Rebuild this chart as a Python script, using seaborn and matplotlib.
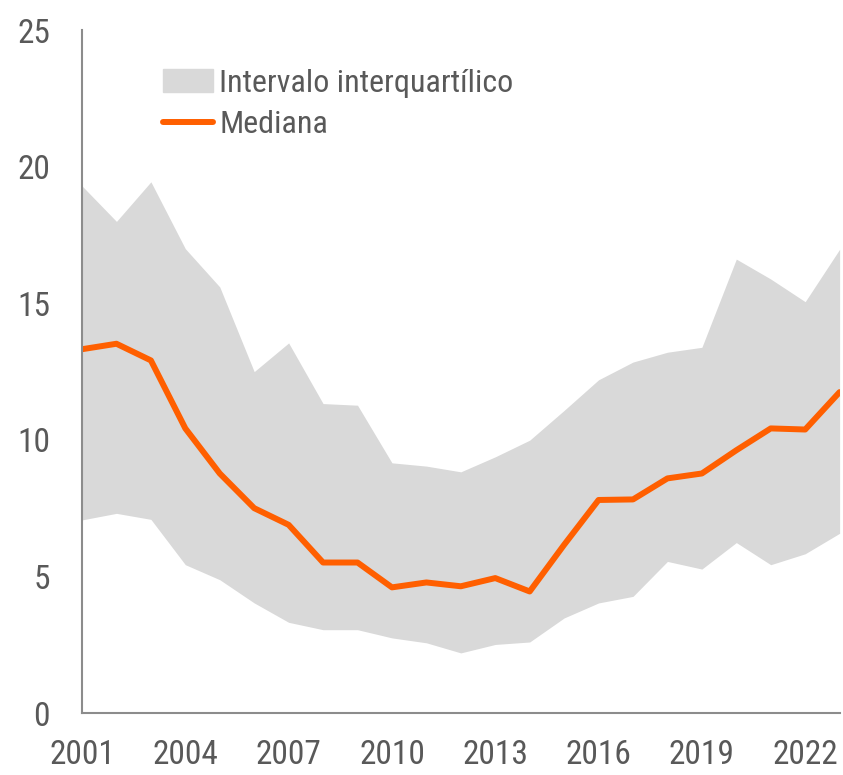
import pandas as pd
import matplotlib.pyplot as plt
import matplotlib.patches as mpatches
import seaborn as sns

years = list(range(2001, 2024))
p75 = [19.3, 18.0, 19.45, 17.0, 15.6, 12.5, 13.55, 11.33, 11.27, 9.16, 9.04, 8.83,
       9.38, 9.99, 11.08, 12.2, 12.85, 13.21, 13.39, 16.62, 15.89, 15.06, 16.98]
median = [13.32, 13.52, 12.91, 10.42, 8.77, 7.5, 6.89, 5.51, 5.51, 4.6, 4.78, 4.64,
          4.94, 4.45, 6.16, 7.8, 7.82, 8.59, 8.77, 9.62, 10.42, 10.38, 11.75]
p25 = [7.07, 7.31, 7.09, 5.43, 4.88, 4.03, 3.32, 3.05, 3.05, 2.75, 2.57, 2.2,
       2.51, 2.6, 3.48, 4.03, 4.27, 5.55, 5.27, 6.24, 5.43, 5.83, 6.58]
xticks = list(range(2001, 2023, 3))
yticks = [0, 5, 10, 15, 20, 25]

df = pd.DataFrame({'ano': years, 'p25': p25, 'mediana': median, 'p75': p75})

sns.set_style('white')
plt.rcParams['font.family'] = ['Roboto Condensed', 'Liberation Sans', 'DejaVu Sans']

grey = '#595959'
axis_col = '#8c8c8c'
band_col = '#d9d9d9'
line_col = '#ff5f00'

fig = plt.figure(figsize=(8.43, 7.75), dpi=100)
ax = fig.add_axes([0.0973, 0.08, 0.8987, 0.881])

# intervalo interquartilico + mediana
ax.fill_between(df['ano'], df['p25'], df['p75'], color=band_col, linewidth=0)
sns.lineplot(data=df, x='ano', y='mediana', color=line_col, linewidth=4.3, ax=ax)

ax.set_xlim(2001, 2023)
ax.set_ylim(0, 25)
ax.set_xticks(xticks)
ax.set_yticks(yticks)
ax.set_xlabel('')
ax.set_ylabel('')

sns.despine(ax=ax)
for s in ['left', 'bottom']:
    ax.spines[s].set_color(axis_col)
    ax.spines[s].set_linewidth(1.5)
ax.tick_params(axis='both', direction='in', length=8, width=1.5, color=axis_col,
               labelcolor=grey, labelsize=24)
ax.tick_params(axis='x', pad=19)
ax.tick_params(axis='y', pad=23)

handles = [mpatches.Patch(color=band_col, label='Intervalo interquartílico'),
           plt.Line2D([], [], color=line_col, linewidth=4.3, label='Mediana')]
leg = fig.legend(handles=handles, loc='upper left', bbox_to_anchor=(0.178, 0.928),
                 frameon=False, fontsize=23, handlelength=1.56, handletextpad=0.2,
                 labelspacing=0.38, borderaxespad=0)
for t in leg.get_texts():
    t.set_color(grey)

fig.savefig('out.png', dpi=100)
